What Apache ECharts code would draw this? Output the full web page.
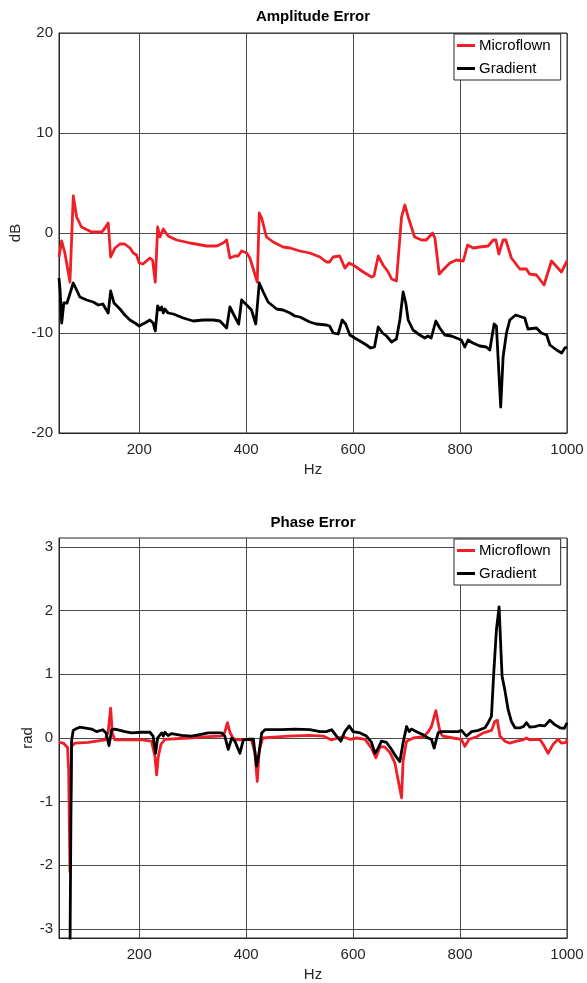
<!DOCTYPE html>
<html><head><meta charset="utf-8">
<script src="https://cdn.jsdelivr.net/npm/echarts@6/dist/echarts.min.js"></script>
<style>html,body{margin:0;padding:0;background:#fff}#c{width:587px;height:983px}</style>
</head><body><div id="c"></div>
<script>
// ---- data (Hz, value) ----
const seriesNames = ['Microflown', 'Gradient'];
const xTicks = [200, 400, 600, 800, 1000];
const phaseTicks = [-3, -2, -1, 0, 1, 2, 3];

const ampMicroflown = [[50,-2.4],[55,-0.8],[61,-2.0],[70.5,-4.9],[76.7,3.7],[83,1.6],[92,0.6],[111,0.1],[130,0.1],[136,0.5],[142,1.0],[146.6,-2.4],[154.7,-1.5],[164,-1.1],[173,-1.1],[182.7,-1.5],[189,-2.0],[195,-2.2],[200,-3.0],[207,-3.1],[220,-2.5],[225,-2.7],[230,-4.9],[234.5,0.6],[238.8,-0.4],[245,0.4],[254,-0.3],[270,-0.7],[295,-1.0],[326,-1.3],[345,-1.3],[357,-1.0],[363.5,-0.7],[369.6,-2.5],[379,-2.3],[385,-2.3],[391.5,-1.8],[401,-2.0],[407,-2.5],[420.7,-4.9],[424.5,2.0],[429,1.5],[438,-0.4],[450.6,-0.9],[469,-1.4],[482,-1.5],[500.5,-1.8],[519,-2.0],[538,-2.4],[550,-2.9],[556,-2.9],[562.7,-2.4],[575,-2.3],[584.6,-3.5],[592.6,-3.0],[603,-3.3],[619,-3.9],[634.5,-4.4],[639,-4.3],[647,-2.3],[656,-3.2],[665.6,-3.9],[672,-4.6],[681,-4.8],[690.6,1.6],[696.7,2.8],[703,1.6],[715,-0.4],[728,-0.7],[737,-0.7],[748.5,0.0],[753,-0.5],[761,-4.1],[768,-3.7],[781,-3.0],[793,-2.7],[806,-2.8],[814,-1.2],[824.4,-1.5],[837,-1.4],[852.5,-1.3],[862,-0.7],[867,-0.7],[872.5,-2.1],[880.5,-0.7],[885.6,-0.7],[896,-2.5],[911.7,-3.6],[924,-3.6],[930,-4.1],[943,-4.2],[957,-5.2],[971,-2.8],[989.6,-3.9],[1000,-2.8]];

const ampGradient = [[50,-4.5],[52,-5.7],[55,-9.0],[59,-7.0],[62,-7.2],[65,-7.0],[68,-7.2],[76.7,-5.0],[83,-5.7],[89,-6.4],[101.8,-6.7],[114,-6.9],[123.5,-7.2],[132,-7.1],[142,-8.0],[146.6,-5.8],[152.8,-7.0],[164,-7.6],[173,-8.2],[182.7,-8.7],[192,-9.0],[200,-9.3],[210.5,-9.0],[220,-8.7],[226,-9.0],[230,-9.8],[234.5,-7.3],[238.8,-7.7],[242,-7.4],[245,-8.0],[248,-7.6],[254,-8.0],[263.7,-8.1],[282.4,-8.5],[301,-8.8],[320,-8.7],[338.5,-8.7],[351,-8.8],[363.5,-9.5],[369.6,-7.4],[379,-8.4],[386,-9.1],[391.5,-6.7],[401,-7.2],[410,-7.7],[418,-9.1],[424.5,-5.0],[432,-5.9],[441,-6.9],[457,-7.6],[469,-7.7],[482,-8.0],[491,-8.3],[500.5,-8.4],[519,-8.9],[531,-9.1],[550,-9.2],[556,-9.3],[562.7,-10.0],[572,-10.1],[579.6,-8.7],[586,-9.1],[594,-10.2],[603,-10.5],[615.8,-10.9],[625,-11.2],[632.6,-11.5],[640,-11.4],[647,-9.4],[655,-10.0],[662.5,-10.3],[672,-10.9],[681,-10.6],[687.4,-8.7],[693.6,-5.9],[698.5,-7.0],[703,-8.7],[712,-9.7],[724.7,-10.2],[734,-10.5],[740,-10.3],[746,-10.5],[754.7,-8.8],[762,-9.5],[771.5,-10.2],[784,-10.3],[793,-10.5],[802.5,-10.7],[808.9,-11.4],[815,-10.7],[824,-11.0],[837,-11.3],[849,-11.4],[855.6,-11.7],[863.7,-9.1],[868,-9.3],[871,-9.1],[876,-17.4],[880.5,-12.4],[886.8,-10.0],[893,-8.7],[904,-8.2],[915,-8.4],[921,-8.5],[927,-9.6],[943,-9.5],[952,-10.0],[962,-10.2],[968,-11.2],[980.5,-11.7],[990,-12.0],[996,-11.5],[1000,-11.4]];

const phaseMicroflown = [[50,-0.07],[53,-0.1],[58,-0.08],[66,-0.15],[68,-0.5],[70.5,-2.1],[72,-1.0],[73.7,-0.13],[80,-0.08],[104.8,-0.07],[136,-0.03],[142,0.1],[146.6,0.47],[149.6,0.08],[154.7,-0.03],[179.6,-0.03],[204.6,-0.03],[223,-0.05],[229.4,-0.29],[232.6,-0.58],[235.7,-0.29],[240.7,-0.1],[248,-0.02],[292,0.0],[329,0.02],[354,0.03],[360,0.09],[365,0.24],[369.6,0.09],[375.8,-0.01],[385,-0.03],[394,-0.02],[410,-0.03],[416.4,-0.23],[420.7,-0.68],[424.5,-0.2],[431,0.0],[478.6,0.03],[519,0.04],[544,0.03],[559.7,-0.03],[572,0.0],[581,0.02],[594,-0.02],[607,0.0],[622,-0.02],[634.5,-0.16],[642.5,-0.31],[650,-0.14],[659,-0.14],[669,-0.23],[678,-0.39],[690.6,-0.94],[693.6,-0.35],[700,-0.05],[712.6,0.0],[731,0.02],[740,0.09],[746.5,0.18],[754.7,0.43],[759,0.24],[763,0.08],[768,0.03],[787,0.0],[802.5,-0.02],[809,-0.13],[817,-0.02],[831,0.02],[843.6,0.08],[859,0.12],[865,0.26],[869.6,0.28],[874.6,0.03],[884,-0.05],[893,-0.08],[905.6,-0.05],[918,-0.03],[924,0.0],[930.5,-0.03],[949,-0.02],[955.6,-0.1],[964.6,-0.24],[974,-0.1],[983,-0.02],[989.6,-0.08],[999,-0.07],[1000,-0.02]];

const phaseGradient = [[50,-3.4],[70.5,-3.4],[72.5,-1.0],[73.5,-0.05],[76.5,0.12],[83,0.15],[89,0.17],[111,0.14],[120,0.1],[132,0.13],[138,0.08],[143.5,-0.12],[148.5,0.13],[154.7,0.14],[173.4,0.1],[186,0.08],[204.6,0.09],[220,0.09],[226,0.03],[230.6,-0.24],[234.4,0.0],[238,0.03],[242,0.08],[245,0.03],[248,0.09],[254,0.04],[260.6,0.07],[279,0.04],[298,0.03],[310.6,0.05],[329,0.08],[354,0.08],[360,0.03],[366.5,-0.18],[373,0.0],[379,-0.05],[388.3,-0.24],[394.7,-0.03],[404,-0.02],[413.5,-0.02],[419.5,-0.44],[424,-0.24],[429,0.08],[435,0.13],[466,0.13],[491,0.14],[519,0.13],[538,0.1],[550,0.1],[559.7,0.13],[569,0.03],[577,-0.05],[584.6,0.1],[592.6,0.19],[600,0.1],[613,0.08],[625,0.03],[634.5,-0.07],[640.7,-0.24],[647,-0.16],[653,-0.05],[662.5,-0.07],[672,-0.18],[680,-0.29],[687.4,-0.37],[693.6,-0.07],[700,0.18],[705,0.1],[709,0.14],[718.6,0.1],[731,0.05],[740,0.0],[746.5,-0.02],[751.5,-0.16],[759,0.08],[765.5,0.1],[781,0.1],[796.6,0.1],[802.5,0.12],[812,0.03],[821.5,0.1],[834,0.12],[846.7,0.16],[852.5,0.24],[858.7,0.34],[863,1.02],[868,1.7],[873,2.06],[875.6,1.54],[878.6,0.97],[883.6,0.76],[890,0.44],[896,0.26],[902.8,0.16],[912,0.16],[918.6,0.18],[924,0.24],[930.5,0.17],[940,0.18],[949,0.2],[958.5,0.19],[968,0.28],[977,0.21],[987,0.16],[995,0.15],[1000,0.24]];

// ---- chart ----
const FONT = '"Liberation Sans", Arial, Helvetica, sans-serif';
const TXT = '#262626';
const RED = '#ee1f26';
const BLK = '#000000';
const GRIDC = '#4a4a4a';

function xAxisFor(gi) {
  return {
    type: 'value', gridIndex: gi, min: 50, max: 1000,
    name: 'Hz', nameLocation: 'middle', nameGap: 29,
    nameTextStyle: { fontFamily: FONT, fontSize: 15, color: TXT },
    axisLine: { show: true, onZero: false, lineStyle: { color: TXT, width: 1 } },
    axisTick: { show: false, customValues: xTicks },
    axisLabel: { customValues: xTicks, formatter: v => String(v), fontFamily: FONT, fontSize: 15, color: TXT, margin: 9 },
    splitLine: { show: true, lineStyle: { color: GRIDC, width: 1 } }
  };
}

const option = {
  animation: false,
  backgroundColor: '#fff',
  title: [
    { text: 'Amplitude Error', left: 313, top: 9, textAlign: 'center', padding: 0,
      textStyle: { fontFamily: FONT, fontSize: 15, fontWeight: 'bold', color: '#000' } },
    { text: 'Phase Error', left: 313, top: 515, textAlign: 'center', padding: 0,
      textStyle: { fontFamily: FONT, fontSize: 15, fontWeight: 'bold', color: '#000' } }
  ],
  grid: [
    { left: 59, top: 33, width: 508, height: 400, show: true, borderColor: TXT, borderWidth: 1, containLabel: false, outerBoundsMode: 'none' },
    { left: 59, top: 538, width: 508, height: 400, show: true, borderColor: TXT, borderWidth: 1, containLabel: false, outerBoundsMode: 'none' }
  ],
  legend: [0, 1].map(i => ({
    data: seriesNames, orient: 'vertical', left: 454, top: i === 0 ? 34 : 539,
    backgroundColor: '#fff', borderColor: TXT, borderWidth: 1, borderRadius: 0,
    padding: [3, 10, 3, 3], itemGap: 6, itemWidth: 18, itemHeight: 3, icon: 'rect',
    selectedMode: false,
    textStyle: { fontFamily: FONT, fontSize: 15, color: '#000', lineHeight: 17, padding: [0, 0, 0, -1] }
  })),
  xAxis: [xAxisFor(0), xAxisFor(1)],
  yAxis: [
    { type: 'value', gridIndex: 0, min: -20, max: 20, interval: 10,
      name: 'dB', nameLocation: 'middle', nameGap: 36, nameMoveOverlap: false,
      nameTextStyle: { fontFamily: FONT, fontSize: 15, color: TXT },
      axisLine: { show: true, onZero: false, lineStyle: { color: TXT, width: 1 } },
      axisTick: { show: false },
      axisLabel: { fontFamily: FONT, fontSize: 15, color: TXT, margin: 6 },
      splitLine: { show: true, lineStyle: { color: GRIDC, width: 1 } } },
    { type: 'value', gridIndex: 1, min: -Math.PI, max: Math.PI,
      name: 'rad', nameLocation: 'middle', nameGap: 24, nameMoveOverlap: false,
      nameTextStyle: { fontFamily: FONT, fontSize: 15, color: TXT },
      axisLine: { show: true, onZero: false, lineStyle: { color: TXT, width: 1 } },
      axisTick: { show: false, customValues: phaseTicks },
      axisLabel: { customValues: phaseTicks, fontFamily: FONT, fontSize: 15, color: TXT, margin: 6 },
      splitLine: { show: true, lineStyle: { color: GRIDC, width: 1 } } }
  ],
  series: [
    { name: seriesNames[0], type: 'line', xAxisIndex: 0, yAxisIndex: 0, data: ampMicroflown },
    { name: seriesNames[1], type: 'line', xAxisIndex: 0, yAxisIndex: 0, data: ampGradient },
    { name: seriesNames[0], type: 'line', xAxisIndex: 1, yAxisIndex: 1, data: phaseMicroflown },
    { name: seriesNames[1], type: 'line', xAxisIndex: 1, yAxisIndex: 1, data: phaseGradient }
  ].map((s, i) => Object.assign(s, {
    showSymbol: false, symbol: 'none', clip: true, z: i % 2 === 0 ? 2 : 3,
    color: i % 2 === 0 ? RED : BLK,
    lineStyle: { width: 2.8, color: i % 2 === 0 ? RED : BLK, join: 'round' }
  }))
};

const chart = echarts.init(document.getElementById('c'), null, { renderer: 'canvas' });
chart.setOption(option);
</script>
</body></html>
